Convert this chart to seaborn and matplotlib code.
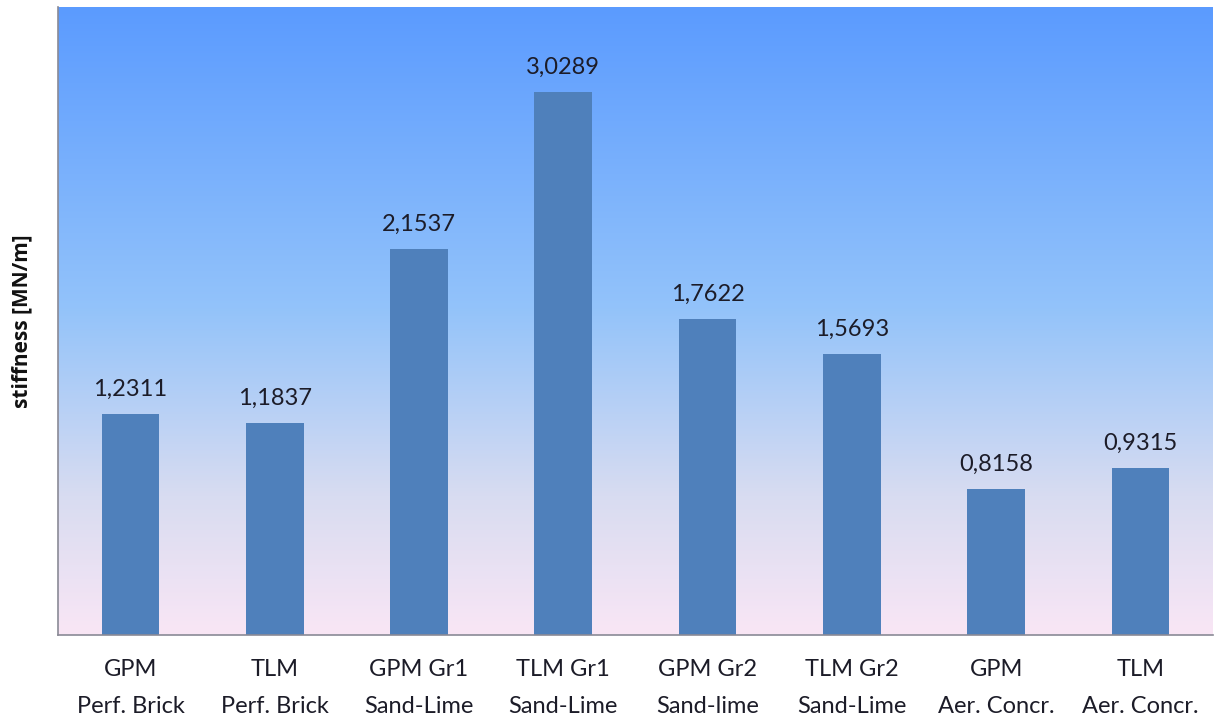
import numpy as np
import pandas as pd
import matplotlib
matplotlib.use("Agg")
import matplotlib.pyplot as plt
from matplotlib.colors import LinearSegmentedColormap
import seaborn as sns

categories = [
    "GPM\nPerf. Brick",
    "TLM\nPerf. Brick",
    "GPM Gr1\nSand-Lime",
    "TLM Gr1\nSand-Lime",
    "GPM Gr2\nSand-lime",
    "TLM Gr2\nSand-Lime",
    "GPM\nAer. Concr.",
    "TLM\nAer. Concr.",
]
stiffness = [1.2311, 1.1837, 2.1537, 3.0289, 1.7622, 1.5693, 0.8158, 0.9315]
value_labels = ["1,2311", "1,1837", "2,1537", "3,0289", "1,7622", "1,5693", "0,8158", "0,9315"]

sns.set_style("white")
plt.rcParams["font.family"] = ["Lato", "DejaVu Sans"]

df = pd.DataFrame({"category": categories, "stiffness": stiffness})

fig = plt.figure(figsize=(12.15, 7.24), dpi=100)
ax = fig.add_axes([0.048, 0.123, 0.950, 0.867])

# vertical gradient backdrop for the plotting area
grad_cmap = LinearSegmentedColormap.from_list(
    "sky", [(0.0, "#f9e6f5"), (0.22, "#d8dcf1"), (0.52, "#93c3fa"), (1.0, "#5b9bff")]
)
grad = np.linspace(0, 1, 256).reshape(-1, 1)
ax.imshow(grad, cmap=grad_cmap, origin="lower", aspect="auto",
          extent=[0, 1, 0, 1], transform=ax.transAxes, zorder=0)

sns.barplot(data=df, x="category", y="stiffness", color="#4f80bb",
            width=0.4, saturation=1, linewidth=0, edgecolor="none", ax=ax, zorder=2)

ax.set_xlim(-0.5, len(categories) - 0.5)
ax.set_ylim(0, 3.5)

for patch, label in zip(ax.patches, value_labels):
    ax.annotate(label, (patch.get_x() + patch.get_width() / 2, patch.get_height()),
                xytext=(0, 10), textcoords="offset points",
                ha="center", va="bottom", fontsize=17, color="#1c1c28")

ax.set_yticks([])
ax.set_xlabel("")
ax.set_ylabel("stiffness [MN/m]", fontsize=15, fontweight="bold",
              family=["Open Sans", "DejaVu Sans"], color="#111111")
ax.yaxis.set_label_coords(-0.0225, 0.5)
ax.tick_params(axis="x", length=0, pad=17, labelsize=17, labelcolor="#1c1c28")
for lbl in ax.get_xticklabels():
    lbl.set_linespacing(1.95)

for side in ["top", "right"]:
    ax.spines[side].set_visible(False)
for side in ["left", "bottom"]:
    ax.spines[side].set_color("#8a8a96")
    ax.spines[side].set_linewidth(1.2)
    ax.spines[side].set_zorder(3)

fig.savefig("out.png", dpi=100)
